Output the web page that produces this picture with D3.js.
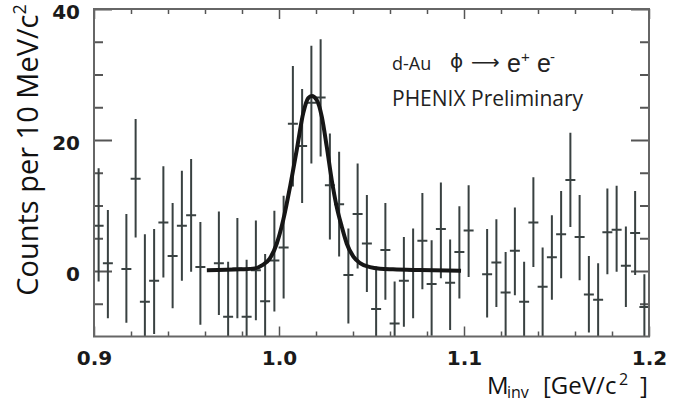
<!DOCTYPE html>
<html>
<head>
<meta charset="utf-8">
<script src="https://cdnjs.cloudflare.com/ajax/libs/d3/7.8.5/d3.min.js"></script>
<style>
    body { margin: 0; background: #fff; }
    svg { display: block; font-family: 'Open Sans', sans-serif; }
    .axis text { font-family: 'DejaVu Sans', sans-serif; font-weight: bold; font-size: 20px; fill: #1a1a1a; }
    .axis line { stroke: #555; }
    .axis path { display: none; }
    .err { stroke: #394141; stroke-width: 2; }
    .fit { fill: none; stroke: #161616; stroke-width: 4; }
</style>
</head>
<body>
<svg id="chart" width="685" height="403"></svg>
<script>
// bin centres (GeV/c^2), 5 MeV bins
const mass = [0.9025, 0.9075, 0.9175, 0.9225, 0.9275, 0.9325, 0.9375, 0.9425, 0.9475, 0.9525,
    0.9575, 0.9675, 0.9725, 0.9775, 0.9825, 0.9875, 0.9925, 0.9975, 1.0025, 1.0075,
    1.0125, 1.0175, 1.0225, 1.0275, 1.0325, 1.0375, 1.0425, 1.0475, 1.0525, 1.0575,
    1.0625, 1.0675, 1.0725, 1.0775, 1.0825, 1.0875, 1.0925, 1.0975, 1.1025, 1.1125,
    1.1175, 1.1225, 1.1275, 1.1325, 1.1375, 1.1425, 1.1475, 1.1525, 1.1575, 1.1625,
    1.1675, 1.1725, 1.1775, 1.1825, 1.1875, 1.1925, 1.1975];
const counts = [6.9, 1.2, 0.3, 14.1, -4.7, -1.5, 7.4, 2.3, 6.9, 8.5,
    0.6, 1.2, -7.0, 0.4, -7.0, 0.1, -4.6, 1.6, 3.6, 22.5,
    19.1, 25.7, 26.5, 13.1, 10.2, -0.6, 8.7, 4.2, -5.8, 3.2,
    -8.0, -1.5, 0.1, 4.6, -2.0, 6.4, -1.8, 2.9, 6.2, -0.5,
    1.3, -3.3, 3.1, -4.7, 7.4, -2.4, 2.1, 5.6, 13.9, 5.2,
    -3.6, -4.4, 5.9, 6.3, 0.8, 5.8, -5.5];
// top and bottom ends of the error bars
const errHi = [15.7, 9.3, 8.7, 23.2, 5.6, 6.4, 16.0, 10.4, 15.3, 17.1,
    7.5, 9.1, 1.4, 8.1, 1.7, 7.7, 2.6, 9.2, 11.5, 31.3,
    27.8, 34.4, 35.4, 21.0, 18.2, 6.5, 16.4, 11.6, 0.7, 10.4,
    -1.6, 5.2, 6.5, 11.9, 4.7, 13.5, 4.8, 9.9, 13.1, 6.4,
    7.9, 2.9, 9.7, 1.4, 14.3, 3.6, 8.5, 12.2, 21.1, 11.6,
    2.3, 1.2, 12.6, 13.0, 6.8, 12.2, -0.5];
const errLo = [-1.6, -7.2, -7.9, 5.1, -15, -9.6, -1.0, -5.7, -1.5, -0.1,
    -8.2, -6.7, -15.4, -7.2, -15.7, -7.5, -11.8, -6.2, -4.2, 12.9,
    10.4, 16.4, 17.5, 4.8, 2.2, -8.0, 0.4, -3.2, -12.3, -4.4,
    -14.4, -8.5, -7.2, -2.8, -9.9, -1.1, -9.0, -4.2, -0.9, -7.1,
    -5.5, -10.2, -3.7, -10.8, 0.6, -10.4, -4.4, -1.1, 6.7, -1.4,
    -9.4, -10.5, -0.5, -0.1, -5.5, -0.6, -10.5];

// fit curve
const fitMass = [0.961, 0.979, 0.987, 0.991, 0.995, 0.9988, 1.0023, 1.006, 1.0096, 1.0131,
    1.0158, 1.0177, 1.0204, 1.0231, 1.0258, 1.0285, 1.0312, 1.0339, 1.0366, 1.0402,
    1.0438, 1.0492, 1.0546, 1.0616, 1.0762, 1.0984];
const fitCounts = [0.1, 0.25, 0.4, 0.9, 1.9, 4.2, 7.8, 12.9, 18.5, 24.1,
    26.4, 26.7, 26.1, 23.6, 19.0, 13.9, 9.8, 6.8, 4.2, 2.2,
    1.2, 0.6, 0.35, 0.25, 0.15, 0.05];

const xMajor = [0.9, 1.0, 1.1, 1.2];
const xMinor = [0.92, 0.94, 0.96, 0.98, 1.02, 1.04, 1.06, 1.08, 1.12, 1.14, 1.16, 1.18];
const yMajor = [0, 20, 40];
const yMinor = [-5, 5, 10, 15, 25, 30, 35];
const binHalf = 0.0027;

const svg = d3.select('#chart');
const pLeft = 94, pRight = 649, pTop = 9, pBottom = 336.5;

const x = d3.scaleLinear().domain([0.9, 1.2]).range([pLeft, pRight]);
const y = d3.scaleLinear().domain([-10, 40]).range([pBottom, pTop]);

svg.append('defs').append('clipPath').attr('id', 'plot')
    .append('rect').attr('x', pLeft).attr('y', pTop)
    .attr('width', pRight - pLeft).attr('height', pBottom - pTop);

// ticks, all pointing inward
function addAxis(axis, tx, ty, width) {
    let g = svg.append('g').attr('class', 'axis')
        .attr('transform', 'translate(' + tx + ',' + ty + ')')
        .call(axis);
    g.selectAll('line').attr('stroke-width', width);
    return g;
}
addAxis(d3.axisBottom(x).tickValues(xMinor).tickSize(-5).tickFormat(''), 0, pBottom, 1.5);
addAxis(d3.axisTop(x).tickValues(xMinor).tickSize(-5).tickFormat(''), 0, pTop, 1.5);
addAxis(d3.axisTop(x).tickValues(xMajor).tickSize(-10).tickFormat(''), 0, pTop, 1.5);
addAxis(d3.axisBottom(x).tickValues(xMajor).tickSizeInner(-10).tickSizeOuter(0)
    .tickPadding(14).tickFormat(d3.format('.1f')), 0, pBottom, 1.5);

addAxis(d3.axisRight(y).tickValues(yMinor).tickSize(-9).tickFormat(''), pRight, 0, 2);
addAxis(d3.axisRight(y).tickValues(yMajor).tickSize(-18).tickFormat(''), pRight, 0, 2);
addAxis(d3.axisLeft(y).tickValues(yMinor).tickSize(-9).tickFormat(''), pLeft, 0, 2);
addAxis(d3.axisLeft(y).tickValues(yMajor).tickSizeInner(-18).tickSizeOuter(0)
    .tickPadding(14), pLeft, 0, 2)
    .selectAll('text').attr('dy', '0.45em');

// data points with error bars
const pts = svg.append('g').attr('clip-path', 'url(#plot)')
    .selectAll('g').data(mass).join('g');
pts.append('line').attr('class', 'err')
    .attr('x1', d => x(d)).attr('x2', d => x(d))
    .attr('y1', (d, i) => y(errHi[i])).attr('y2', (d, i) => y(errLo[i]));
pts.append('line').attr('class', 'err')
    .attr('x1', d => x(d - binHalf)).attr('x2', d => x(d + binHalf))
    .attr('y1', (d, i) => y(counts[i])).attr('y2', (d, i) => y(counts[i]));

// fit
const line = d3.line().x(d => x(d[0])).y(d => y(d[1])).curve(d3.curveMonotoneX);
svg.append('path').attr('class', 'fit')
    .attr('d', line(d3.zip(fitMass, fitCounts)));

// frame
svg.append('rect').attr('x', pLeft).attr('y', pTop)
    .attr('width', pRight - pLeft).attr('height', pBottom - pTop)
    .attr('fill', 'none').attr('stroke', '#666').attr('stroke-width', 2);

// axis titles
const yt = svg.append('text')
    .attr('transform', 'translate(38,150) rotate(-90)')
    .attr('text-anchor', 'middle')
    .attr('font-size', 29).attr('fill', '#111');
yt.append('tspan').text('Counts per 10 MeV/c');
yt.append('tspan').attr('font-size', 18).attr('dy', -12).text('2');

const xt = svg.append('text').attr('y', 394).attr('font-size', 24).attr('fill', '#111');
xt.append('tspan').attr('x', 487).text('M');
xt.append('tspan').attr('x', 507).attr('dy', 4).attr('font-size', 16).text('inv');
xt.append('tspan').attr('x', 543).attr('dy', -4).text('[GeV/c');
xt.append('tspan').attr('x', 619).attr('dy', -9).attr('font-size', 16).text('2');
xt.append('tspan').attr('x', 640).attr('dy', 9).text(']');

// labels inside the plot
svg.append('text').attr('x', 392).attr('y', 70).attr('font-size', 18).attr('fill', '#222').text('d-Au');
svg.append('text').attr('x', 450).attr('y', 68).attr('font-size', 20).attr('fill', '#222')
    .attr('font-family', 'DejaVu Sans').text('\u03d5');
svg.append('text').attr('x', 471).attr('y', 69).attr('font-size', 20).attr('fill', '#222')
    .attr('font-family', 'DejaVu Sans').attr('textLength', 28).text('\u27f6');
const ee = svg.append('text').attr('y', 72).attr('font-size', 25).attr('fill', '#222')
    .attr('font-family', 'Liberation Sans');
ee.append('tspan').attr('x', 507).text('e');
ee.append('tspan').attr('x', 521).attr('dy', -10).attr('font-size', 15).text('+');
ee.append('tspan').attr('x', 537).attr('dy', 10).text('e');
ee.append('tspan').attr('x', 550).attr('dy', -10).attr('font-size', 15).text('-');
svg.append('text').attr('x', 392).attr('y', 106).attr('font-size', 21).attr('fill', '#222')
    .text('PHENIX Preliminary');
</script>
</body>
</html>
